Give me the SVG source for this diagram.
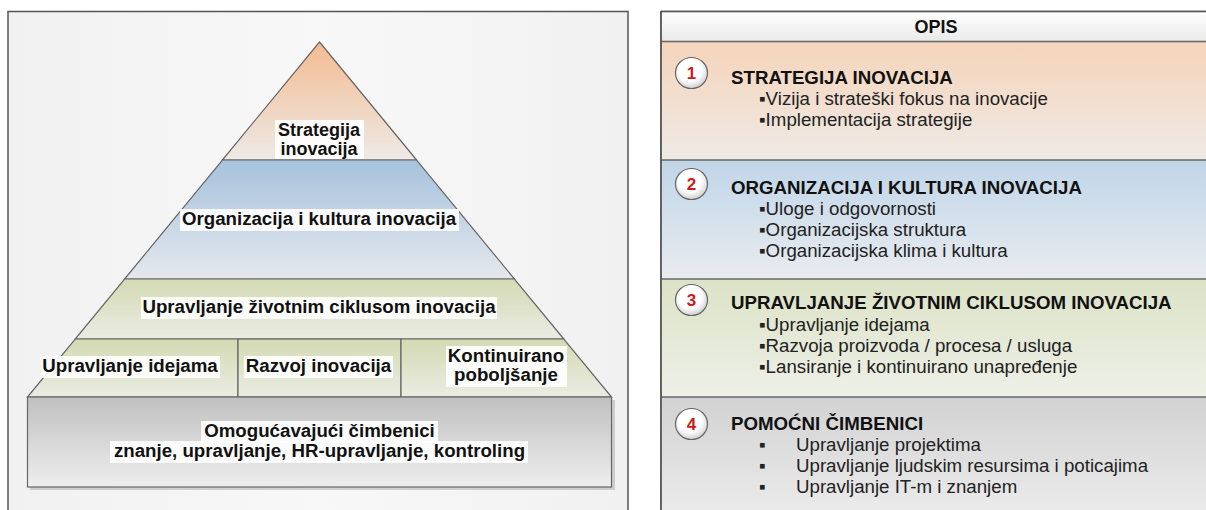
<svg xmlns="http://www.w3.org/2000/svg" width="1206" height="510" viewBox="0 0 1206 510">
  <defs>
    <linearGradient id="gPanel" x1="0" y1="0" x2="1" y2="0">
      <stop offset="0" stop-color="#f1f1f1"/>
      <stop offset="0.5" stop-color="#f8f8f8"/>
      <stop offset="1" stop-color="#f1f1f1"/>
    </linearGradient>
    <linearGradient id="gOrange" x1="0" y1="0" x2="0" y2="1">
      <stop offset="0" stop-color="#f3bb90"/>
      <stop offset="1" stop-color="#eeeae6"/>
    </linearGradient>
    <linearGradient id="gBlue" x1="0" y1="0" x2="0" y2="1">
      <stop offset="0" stop-color="#a6c2dc"/>
      <stop offset="1" stop-color="#e4e8ee"/>
    </linearGradient>
    <linearGradient id="gGreen" x1="0" y1="0" x2="0" y2="1">
      <stop offset="0" stop-color="#d3dab3"/>
      <stop offset="1" stop-color="#eaece2"/>
    </linearGradient>
    <linearGradient id="gGray" x1="0" y1="0" x2="0" y2="1">
      <stop offset="0" stop-color="#c0c0c0"/>
      <stop offset="1" stop-color="#eeeeee"/>
    </linearGradient>
    <linearGradient id="gHead" x1="0" y1="0" x2="0" y2="1">
      <stop offset="0" stop-color="#ffffff"/>
      <stop offset="1" stop-color="#e9e9e9"/>
    </linearGradient>
    <linearGradient id="gS1" x1="0" y1="0" x2="0" y2="1">
      <stop offset="0" stop-color="#f5d4ba"/>
      <stop offset="1" stop-color="#efeae6"/>
    </linearGradient>
    <linearGradient id="gS2" x1="0" y1="0" x2="0" y2="1">
      <stop offset="0" stop-color="#c0d5e8"/>
      <stop offset="1" stop-color="#e9ecf0"/>
    </linearGradient>
    <linearGradient id="gS3" x1="0" y1="0" x2="0" y2="1">
      <stop offset="0" stop-color="#dce2c6"/>
      <stop offset="1" stop-color="#eef0e7"/>
    </linearGradient>
    <linearGradient id="gS4" x1="0" y1="0" x2="0" y2="1">
      <stop offset="0" stop-color="#d2d2d2"/>
      <stop offset="1" stop-color="#ececec"/>
    </linearGradient>
    <radialGradient id="gCircle" cx="0.45" cy="0.4" r="0.6">
      <stop offset="0.6" stop-color="#ffffff"/>
      <stop offset="1" stop-color="#d0d0d0"/>
    </radialGradient>
  </defs>
  <style>
    .panel { stroke: #555; stroke-width: 1.5; }
    .shape { stroke: #666; stroke-width: 1.2; }
    .lbl { font-family: "Liberation Sans", Arial, sans-serif; font-size: 18.7px; font-weight: bold; fill: #111; text-anchor: middle; }
    .lbl2 { font-size: 18px; }
    .bg { fill: #ffffff; opacity: 0.9; }
    .sep { stroke: #666; stroke-width: 1.5; }
    .title { font-family: "Liberation Sans", Arial, sans-serif; font-size: 18.7px; font-weight: bold; fill: #111; }
    .item { font-family: "Liberation Sans", "DejaVu Sans", Arial, sans-serif; font-size: 18.7px; fill: #222; }
    .head { font-family: "Liberation Sans", Arial, sans-serif; font-size: 18px; font-weight: bold; fill: #111; text-anchor: middle; }
    .circ { fill: url(#gCircle); stroke: #666; stroke-width: 1.2; }
    .num { font-family: "Liberation Sans", Arial, sans-serif; font-size: 17px; font-weight: bold; fill: #cc1a1a; text-anchor: middle; }
  </style>

  <!-- Left panel -->
  <g id="left-panel">
    <rect class="panel" x="8" y="11.5" width="620" height="520" fill="url(#gPanel)"/>
  </g>

  <g id="node-strategy">
    <polygon class="shape" points="319.5,42 416.6,160 222.4,160" fill="url(#gOrange)"/>
    <rect class="bg" x="275" y="120" width="89" height="39"/>
    <text class="lbl lbl2" x="319" y="136">Strategija</text>
    <text class="lbl lbl2" x="319" y="155">inovacija</text>
  </g>

  <g id="node-org">
    <polygon class="shape" points="222.4,160 416.6,160 514.4,279 124.6,279" fill="url(#gBlue)"/>
    <rect class="bg" x="180" y="209" width="279" height="22"/>
    <text class="lbl" x="319" y="225">Organizacija i kultura inovacija</text>
  </g>

  <g id="node-lifecycle">
    <polygon class="shape" points="124.6,279 514.4,279 563.8,339 75.2,339" fill="url(#gGreen)"/>
    <rect class="bg" x="141" y="297" width="356" height="22"/>
    <text class="lbl" x="319" y="313">Upravljanje životnim ciklusom inovacija</text>
  </g>

  <g id="node-ideas">
    <polygon class="shape" points="75.2,339 238,339 238,397 27.5,397" fill="url(#gGreen)"/>
    <rect class="bg" x="41" y="356" width="179" height="22"/>
    <text class="lbl" x="130" y="372">Upravljanje idejama</text>
  </g>

  <g id="node-dev">
    <rect class="shape" x="238" y="339" width="163" height="58" fill="url(#gGreen)"/>
    <rect class="bg" x="244" y="356" width="149" height="22"/>
    <text class="lbl" x="318.5" y="372">Razvoj inovacija</text>
  </g>

  <g id="node-improve">
    <polygon class="shape" points="401,339 563.8,339 611.5,397 401,397" fill="url(#gGreen)"/>
    <rect class="bg" x="446" y="346" width="121" height="41"/>
    <text class="lbl" x="506" y="362">Kontinuirano</text>
    <text class="lbl" x="506" y="381">poboljšanje</text>
  </g>

  <g id="node-base">
    <rect x="30" y="400" width="585" height="90" fill="#aaa" opacity="0.5"/>
    <rect class="shape" x="27.5" y="397" width="584" height="90" fill="url(#gGray)"/>
    <rect class="bg" x="201" y="421" width="237" height="22"/>
    <rect class="bg" x="110" y="441" width="418" height="22"/>
    <text class="lbl" x="319.5" y="437">Omogućavajući čimbenici</text>
    <text class="lbl" x="319.5" y="457">znanje, upravljanje, HR-upravljanje, kontroling</text>
  </g>

  <g id="connectors"/>

  <!-- Right panel -->
  <g id="right-panel">
    <rect class="panel" x="661" y="11.5" width="560" height="520" fill="#f0f0f0"/>
  </g>

  <g id="header">
    <rect x="661.75" y="12.25" width="560" height="29.5" fill="url(#gHead)"/>
    <text class="head" x="936" y="33">OPIS</text>
  </g>

  <g id="section-1">
    <rect x="661.75" y="42" width="560" height="118" fill="url(#gS1)"/>
    <ellipse class="circ" cx="691.5" cy="73" rx="16" ry="15.5"/>
    <text class="num" x="691.5" y="79">1</text>
    <text class="title" x="731" y="84">STRATEGIJA INOVACIJA</text>
    <text class="item" x="759" y="105">▪Vizija i strateški fokus na inovacije</text>
    <text class="item" x="759" y="126">▪Implementacija strategije</text>
  </g>

  <g id="section-2">
    <rect x="661.75" y="160" width="560" height="119" fill="url(#gS2)"/>
    <ellipse class="circ" cx="691.5" cy="184" rx="16" ry="15.5"/>
    <text class="num" x="691.5" y="190">2</text>
    <text class="title" x="731" y="194">ORGANIZACIJA I KULTURA INOVACIJA</text>
    <text class="item" x="759" y="215">▪Uloge i odgovornosti</text>
    <text class="item" x="759" y="236">▪Organizacijska struktura</text>
    <text class="item" x="759" y="257">▪Organizacijska klima i kultura</text>
  </g>

  <g id="section-3">
    <rect x="661.75" y="279" width="560" height="118" fill="url(#gS3)"/>
    <ellipse class="circ" cx="691.5" cy="300" rx="16" ry="15.5"/>
    <text class="num" x="691.5" y="306">3</text>
    <text class="title" x="731" y="309">UPRAVLJANJE ŽIVOTNIM CIKLUSOM INOVACIJA</text>
    <text class="item" x="759" y="331">▪Upravljanje idejama</text>
    <text class="item" x="759" y="352">▪Razvoja proizvoda / procesa / usluga</text>
    <text class="item" x="759" y="373">▪Lansiranje i kontinuirano unapređenje</text>
  </g>

  <g id="section-4">
    <rect x="661.75" y="397" width="560" height="120" fill="url(#gS4)"/>
    <ellipse class="circ" cx="691.5" cy="424" rx="16" ry="15.5"/>
    <text class="num" x="691.5" y="430">4</text>
    <text class="title" x="731" y="430">POMOĆNI ČIMBENICI</text>
    <text class="item" x="759" y="451">▪</text>
    <text class="item" x="796" y="451">Upravljanje projektima</text>
    <text class="item" x="759" y="472">▪</text>
    <text class="item" x="796" y="472">Upravljanje ljudskim resursima i poticajima</text>
    <text class="item" x="759" y="493">▪</text>
    <text class="item" x="796" y="493">Upravljanje IT-m i znanjem</text>
  </g>

  <g id="separators">
    <line class="sep" x1="661" y1="41.5" x2="1206" y2="41.5" stroke-width="2.2" stroke="#555"/>
    <line class="sep" x1="661" y1="160" x2="1206" y2="160"/>
    <line class="sep" x1="661" y1="279" x2="1206" y2="279"/>
    <line class="sep" x1="661" y1="397" x2="1206" y2="397"/>
    <line class="panel" x1="661" y1="11.5" x2="1206" y2="11.5"/>
    <line class="panel" x1="661" y1="11.5" x2="661" y2="510"/>
  </g>
</svg>
